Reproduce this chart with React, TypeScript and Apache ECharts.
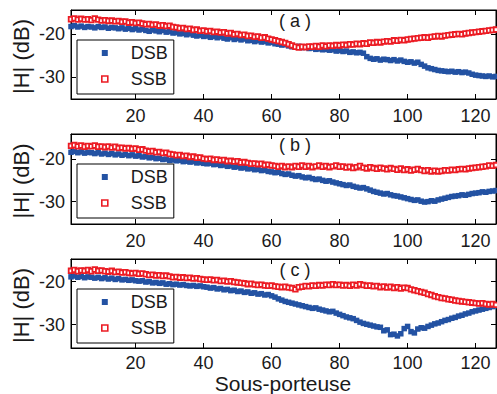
import React, { useEffect, useRef } from "react";
import * as echarts from "echarts";

// Sous-porteuse index 1..126
const xTicks = [20, 40, 60, 80, 100, 120];
const yTicks = [-30, -20];
const panelTitles = ["( a )", "( b )", "( c )"];
const seriesNames = ["DSB", "SSB"];

const dsbA = [
  -18.2, -18.0, -18.3, -18.1, -18.4, -18.2, -18.3, -18.5, -18.2, -18.4,
  -18.3, -18.6, -18.4, -18.5, -18.7, -18.5, -18.8, -18.6, -18.9, -18.7,
  -19.0, -18.8, -19.1, -19.3, -19.0, -19.2, -19.4, -19.1, -19.5, -19.4,
  -19.7, -19.6, -19.9, -19.8, -20.1, -19.9, -20.2, -20.4, -20.2, -20.5,
  -20.4, -20.7, -20.5, -20.8, -20.6, -20.9, -21.1, -20.8, -21.2, -21.0,
  -21.3, -21.1, -21.5, -21.4, -21.7, -21.5, -21.8, -21.7, -22.0, -21.9,
  -22.2, -22.3, -22.5, -22.4, -22.7, -22.9, -23.0, -22.8, -23.1, -23.0,
  -23.3, -23.2, -23.5, -23.4, -23.6, -23.5, -23.7, -23.6, -23.9, -23.8,
  -24.0, -23.9, -24.2, -24.1, -24.3, -24.2, -24.4, -25.2, -25.6, -25.8,
  -25.7, -26.0, -25.8, -25.9, -26.1, -25.9, -26.2, -26.0, -26.3, -26.5,
  -26.4, -26.7, -26.5, -27.0, -27.4, -27.8, -28.0, -28.2, -28.4, -28.5,
  -28.6, -28.7, -28.6, -28.8, -28.7, -28.9, -28.8, -29.0, -29.3, -29.5,
  -29.6, -29.7, -29.8, -29.7, -29.9, -29.8,
];
const ssbA = [
  -16.5, -16.3, -16.6, -16.4, -16.6, -16.5, -16.7, -16.3, -16.6, -16.8,
  -16.7, -16.9, -16.8, -17.0, -16.9, -17.1, -17.0, -17.3, -17.2, -17.4,
  -17.3, -17.5, -17.7, -17.6, -17.8, -17.7, -18.0, -17.9, -18.1, -18.0,
  -18.3, -18.4, -18.6, -18.5, -18.8, -18.7, -19.0, -18.9, -19.2, -19.1,
  -19.3, -19.2, -19.5, -19.4, -19.6, -19.5, -19.8, -19.7, -20.0, -19.9,
  -20.2, -20.1, -20.4, -20.3, -20.6, -20.5, -20.8, -20.7, -21.0, -21.2,
  -21.4, -21.6, -21.8, -22.0, -22.3, -22.6, -22.9, -23.1, -22.9, -23.0,
  -22.8, -22.9, -22.7, -22.9, -22.6, -22.8, -22.6, -22.7, -22.5, -22.6,
  -22.4, -22.5, -22.3, -22.4, -22.2, -22.3, -22.1, -22.2, -21.9, -22.0,
  -21.8, -21.9, -21.7, -21.6, -21.7, -21.4, -21.5, -21.3, -21.4, -21.2,
  -21.1, -21.0, -20.9, -20.8, -20.7, -20.8, -20.6, -20.5, -20.4, -20.5,
  -20.3, -20.2, -20.1, -20.0, -19.9, -20.0, -19.8, -19.7, -19.6, -19.5,
  -19.4, -19.3, -19.2, -19.1, -19.0, -18.9,
];
const dsbB = [
  -18.4, -18.2, -18.5, -18.3, -18.6, -18.4, -18.5, -18.7, -18.5, -18.8,
  -18.6, -18.9, -18.7, -19.0, -18.8, -19.1, -18.9, -19.2, -19.0, -19.3,
  -19.2, -19.5, -19.4, -19.7, -19.6, -19.9, -19.8, -20.1, -20.0, -20.3,
  -20.2, -20.4, -20.3, -20.6, -20.5, -20.7, -20.6, -20.9, -20.8, -21.0,
  -21.1, -21.0, -21.3, -21.2, -21.5, -21.4, -21.7, -21.6, -21.9, -21.8,
  -22.1, -22.0, -22.3, -22.2, -22.5, -22.4, -22.7, -22.6, -22.9, -23.0,
  -23.2, -23.1, -23.4, -23.6, -23.5, -23.8, -24.0, -23.9, -24.2, -24.4,
  -24.3, -24.6, -24.8, -24.7, -25.0, -25.2, -25.1, -25.4, -25.6, -25.8,
  -26.0, -26.2, -26.1, -26.4, -26.6, -26.8, -26.7, -27.0, -27.3, -27.6,
  -27.8, -28.0, -28.2, -28.1, -28.4, -28.6, -28.7, -28.9, -29.1, -29.3,
  -29.5, -29.7, -29.6, -29.9, -30.1, -30.0, -29.8, -29.9, -29.6, -29.4,
  -29.2, -29.0, -28.8, -28.7, -28.6, -28.4, -28.5, -28.3, -28.1, -28.0,
  -27.9, -27.7, -27.8, -27.6, -27.5, -27.4,
];
const ssbB = [
  -16.9, -16.7, -17.0, -16.8, -17.1, -16.9, -17.0, -16.8, -17.1, -17.0,
  -17.2, -17.0, -17.3, -17.1, -17.4, -17.3, -17.5, -17.4, -17.6, -17.5,
  -17.8, -17.7, -18.0, -18.2, -18.1, -18.4, -18.3, -18.6, -18.5, -18.8,
  -18.9, -19.1, -19.0, -19.3, -19.2, -19.5, -19.4, -19.7, -19.6, -19.9,
  -20.0, -19.9, -20.2, -20.1, -20.3, -20.2, -20.5, -20.4, -20.6, -20.5,
  -20.8, -20.7, -20.9, -21.1, -21.0, -21.2, -21.1, -21.4, -21.3, -21.5,
  -21.6, -21.8, -21.6, -21.9, -21.7, -21.9, -21.6, -21.8, -21.5, -21.8,
  -21.6, -21.9, -21.7, -21.5, -21.8, -21.6, -21.9, -21.7, -21.5, -21.8,
  -21.7, -22.0, -21.8, -22.1, -21.9, -21.6, -22.0, -22.2, -21.9, -22.1,
  -22.3, -22.0, -22.2, -22.4, -22.1, -22.3, -22.5, -22.2, -22.6, -22.4,
  -22.7, -22.5, -22.3, -22.6, -22.8, -22.6, -22.9, -22.7, -22.9, -22.8,
  -22.6, -22.7, -22.5, -22.6, -22.4, -22.3, -22.4, -22.2, -22.1, -22.0,
  -21.9, -21.8, -21.7, -21.5, -21.6, -21.4,
];
const dsbC = [
  -18.9, -18.7, -19.0, -18.8, -19.1, -18.9, -19.0, -19.2, -19.0, -19.3,
  -19.1, -19.4, -19.2, -19.5, -19.3, -19.6, -19.5, -19.7, -19.6, -19.8,
  -19.9, -19.8, -20.1, -20.0, -20.3, -20.2, -20.4, -20.3, -20.6, -20.5,
  -20.7, -20.6, -20.8, -20.7, -20.9, -21.0, -20.9, -21.1, -21.0, -21.2,
  -21.3, -21.5, -21.4, -21.7, -21.6, -21.9, -21.8, -22.1, -22.0, -22.3,
  -22.2, -22.5, -22.4, -22.7, -22.6, -22.9, -22.8, -23.1, -23.0, -23.3,
  -23.6, -24.0, -24.3, -24.6, -24.8, -25.0, -25.2, -25.4, -25.6, -25.8,
  -26.0, -26.2, -26.1, -26.4, -26.6, -26.8, -27.0, -26.9, -27.3, -27.6,
  -27.9, -28.2, -28.4, -28.6, -29.0, -29.4, -29.7, -29.9, -30.1, -30.3,
  -30.5, -30.6, -31.4, -31.2, -32.3, -32.2, -32.6, -32.1, -30.9, -30.4,
  -31.6, -31.9, -31.0, -30.7, -30.8, -30.4, -30.1, -29.8, -29.6, -29.3,
  -29.0, -28.8, -28.5, -28.3, -28.0, -27.8, -27.5, -27.3, -27.0, -26.8,
  -26.6, -26.4, -26.2, -26.0, -25.8, -25.6,
];
const ssbC = [
  -17.5, -17.3, -17.6, -17.4, -17.5, -17.3, -17.6, -17.2, -17.5, -17.4,
  -17.6, -17.7, -17.5, -17.8, -17.7, -17.9, -17.8, -18.0, -18.1, -18.0,
  -18.2, -18.1, -18.3, -18.5, -18.4, -18.6, -18.5, -18.7, -18.6, -18.8,
  -19.0, -18.9, -19.1, -19.0, -19.2, -19.1, -19.3, -19.2, -19.4, -19.5,
  -19.6, -19.5, -19.7, -19.6, -19.9, -19.8, -20.0, -19.9, -20.1, -20.2,
  -20.3, -20.4, -20.6, -20.5, -20.7, -20.8, -20.7, -20.9, -21.0, -20.9,
  -21.1, -21.2, -21.3, -21.2, -21.4, -21.5, -21.8, -21.3, -21.2, -21.0,
  -21.1, -20.9, -21.0, -20.8, -20.9, -20.7, -20.8, -20.6, -20.8, -20.7,
  -20.9, -20.8, -21.0, -20.7, -20.9, -20.6, -20.8, -21.0, -20.9, -21.1,
  -21.0, -21.3, -21.1, -21.4, -21.2, -21.5, -21.3, -21.6, -21.4, -21.5,
  -21.8, -22.0, -22.2, -22.4, -22.6, -22.9, -23.1, -23.4, -23.6, -23.8,
  -23.9, -24.1, -24.2, -24.4, -24.5, -24.6, -24.7, -24.8, -24.9, -25.0,
  -25.1, -25.0, -25.2, -25.3, -25.2, -25.4,
];

const panels = [
  { dsb: dsbA, ssb: ssbA, yMin: -35.05, yMax: -14.35 },
  { dsb: dsbB, ssb: ssbB, yMin: -35.26, yMax: -14.1 },
  { dsb: dsbC, ssb: ssbC, yMin: -35.4, yMax: -14.76 },
];

const BLUE = "#2352a3";
const RED = "#ec1c24";
const INK = "#1a1a1a";
const FONT = "Liberation Sans";
const gridTops = [10, 134, 259];
const gridHeights = [89, 90, 89];

export default function App() {
  const ref = useRef<HTMLDivElement>(null);
  useEffect(() => {
    document.body.style.margin = "0";
    if (!ref.current) return;
    const chart = echarts.init(ref.current, undefined, { renderer: "svg" });
    const toPts = (arr: number[]) => arr.map((v, i) => [i + 1, v]);

    const grids = gridTops.map((top, i) => ({
      left: 71,
      right: 1,
      top,
      height: gridHeights[i],
      show: true,
      borderColor: "#000",
      borderWidth: 1,
      backgroundColor: "transparent",
    }));

    const xAxes: any[] = [];
    const yAxes: any[] = [];
    panels.forEach((p, i) => {
      xAxes.push({
        type: "value",
        gridIndex: i,
        min: 1,
        max: 126,
        position: "bottom",
        axisLine: { show: true, lineStyle: { color: "#000", width: 1 } },
        axisTick: { show: true, inside: true, length: 5, customValues: xTicks, lineStyle: { color: "#000" } },
        axisLabel: {
          show: true,
          customValues: xTicks,
          margin: i === 2 ? 6 : 8,
          fontSize: 18,
          lineHeight: 18,
          fontFamily: FONT,
          color: INK,
        },
        splitLine: { show: false },
      });
      yAxes.push({
        type: "value",
        gridIndex: i,
        min: p.yMin,
        max: p.yMax,
        position: "left",
        axisLine: { show: true, lineStyle: { color: "#000", width: 1 } },
        axisTick: { show: true, inside: true, length: 5, customValues: yTicks, lineStyle: { color: "#000" } },
        axisLabel: { show: true, customValues: yTicks, margin: 6, fontSize: 18, fontFamily: FONT, color: INK },
        splitLine: { show: false },
      });
    });
    panels.forEach((p, i) => {
      xAxes.push({
        type: "value",
        gridIndex: i,
        min: 1,
        max: 126,
        position: "top",
        axisLine: { show: true, lineStyle: { color: "#000", width: 1 } },
        axisTick: { show: true, inside: true, length: 5, customValues: xTicks, lineStyle: { color: "#000" } },
        axisLabel: { show: false },
        splitLine: { show: false },
      });
      yAxes.push({
        type: "value",
        gridIndex: i,
        min: p.yMin,
        max: p.yMax,
        position: "right",
        axisLine: { show: true, lineStyle: { color: "#000", width: 1 } },
        axisTick: { show: true, inside: true, length: 5, customValues: yTicks, lineStyle: { color: "#000" } },
        axisLabel: { show: false },
        splitLine: { show: false },
      });
    });

    const series: any[] = [];
    panels.forEach((p, i) => {
      series.push({
        type: "scatter",
        name: seriesNames[0],
        xAxisIndex: i,
        yAxisIndex: i,
        symbol: "rect",
        symbolSize: 5.5,
        itemStyle: { color: BLUE, opacity: 1 },
        data: toPts(p.dsb),
        z: 2,
      });
      series.push({
        type: "scatter",
        name: seriesNames[1],
        xAxisIndex: i,
        yAxisIndex: i,
        symbol: "rect",
        symbolSize: 4.6,
        itemStyle: { color: "#fff", borderColor: RED, borderWidth: 1.8, opacity: 1 },
        data: toPts(p.ssb),
        z: 3,
      });
    });

    const legends = gridTops.map((top) => ({
      orient: "vertical",
      left: 77,
      top: top + 30,
      padding: [3, 6, 5, 24],
      itemGap: 6,
      itemWidth: 6,
      itemHeight: 6,
      borderColor: "#000",
      borderWidth: 1,
      backgroundColor: "#fff",
      selectedMode: false,
      textStyle: { fontSize: 18, fontFamily: FONT, color: INK, lineHeight: 20, padding: [0, 0, 0, 18] },
      data: [
        { name: seriesNames[0], icon: "rect", itemStyle: { color: BLUE, borderWidth: 0 } },
        { name: seriesNames[1], icon: "rect", itemStyle: { color: "#fff", borderColor: RED, borderWidth: 1.6 } },
      ],
    }));

    const graphic: any[] = [];
    gridTops.forEach((top, i) => {
      graphic.push({
        type: "text",
        x: 295,
        y: top + 11,
        style: { text: panelTitles[i], font: `18px "${FONT}"`, fill: INK, textAlign: "center", textVerticalAlign: "middle" },
        z: 10,
      });
      graphic.push({
        type: "text",
        x: 21,
        y: top + gridHeights[i] / 2 + 2,
        rotation: Math.PI / 2,
        style: { text: "|H| (dB)", font: `22px "${FONT}"`, fill: INK, textAlign: "center", textVerticalAlign: "middle" },
        z: 10,
      });
    });
    graphic.push({
      type: "text",
      x: 283,
      y: 383,
      style: { text: "Sous-porteuse", font: `21px "${FONT}"`, fill: INK, textAlign: "center", textVerticalAlign: "middle" },
      z: 10,
    });

    chart.setOption({
      animation: false,
      backgroundColor: "#fff",
      grid: grids,
      xAxis: xAxes,
      yAxis: yAxes,
      legend: legends,
      series,
      graphic,
    });
    return () => chart.dispose();
  }, []);
  return <div ref={ref} style={{ width: 497, height: 394 }} />;
}
